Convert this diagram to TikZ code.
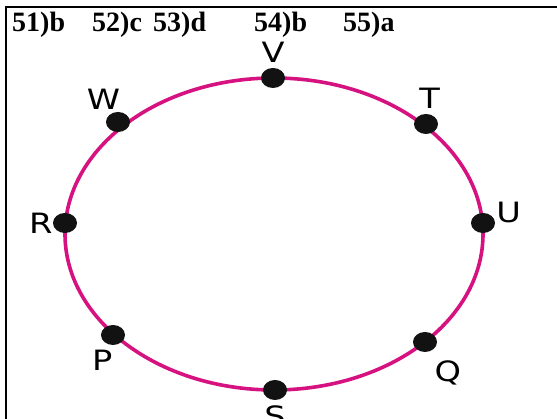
\documentclass[tikz,border=0pt]{standalone}
\usepackage{fontspec}
\newfontfamily\labelfont{DejaVu Sans}
\newfontfamily\ansfont{Liberation Serif}
\usetikzlibrary{shapes.geometric, positioning}
\definecolor{ringpink}{RGB}{214,18,128}

\begin{document}
\begin{tikzpicture}[x=1pt, y=1pt,
    dot/.style={ellipse, fill=black!93, minimum width=24pt,
      minimum height=20pt, inner sep=0pt},
    lbl/.style={font=\labelfont\fontsize{28}{28}\selectfont,
      inner sep=0pt, xscale=1.2, transform shape},
    ans/.style={font=\ansfont\fontsize{28}{28}\selectfont\bfseries,
      anchor=west, inner sep=0pt}
  ]
  \useasboundingbox (0,0) rectangle (557,419);
  \draw[line width=2pt] (6,0) -- (6,412) -- (557,412);

  % answers
  \foreach \x/\t [count=\i] in {12/51)b, 92/52)c, 153/53)d, 254/54)b, 343/55)a}
    \node[ans] (a\i) at (\x,394) {\t};

  % ring
  \draw[ringpink, line width=3.6pt] (274,185) ellipse [x radius=209pt, y radius=156pt];

  \node[dot] (V) at (273,341) {};
  \node[dot] (T) at (426,295) {};
  \node[dot] (U) at (483,196) {};
  \node[dot] (Q) at (425,77) {};
  \node[dot] (S) at (275,29) {};
  \node[dot] (P) at (113,84) {};
  \node[dot] (R) at (65,196) {};
  \node[dot] (W) at (118,297) {};

  \node[lbl, above=5pt of V] (lV) {V};
  \node[lbl, above=5pt of T, xshift=3pt] (lT) {T};
  \node[lbl, right=1pt of U, yshift=11pt] (lU) {U};
  \node[lbl, below=8pt of Q, xshift=19pt] (lQ) {Q};
  \node[lbl, below=5pt of S] (lS) {S};
  \node[lbl, below=5pt of P, xshift=-9pt] (lP) {P};
  \node[lbl, left=0pt of R] (lR) {R};
  \node[lbl, above=2pt of W, xshift=-12pt] (lW) {W};
\end{tikzpicture}
\end{document}
